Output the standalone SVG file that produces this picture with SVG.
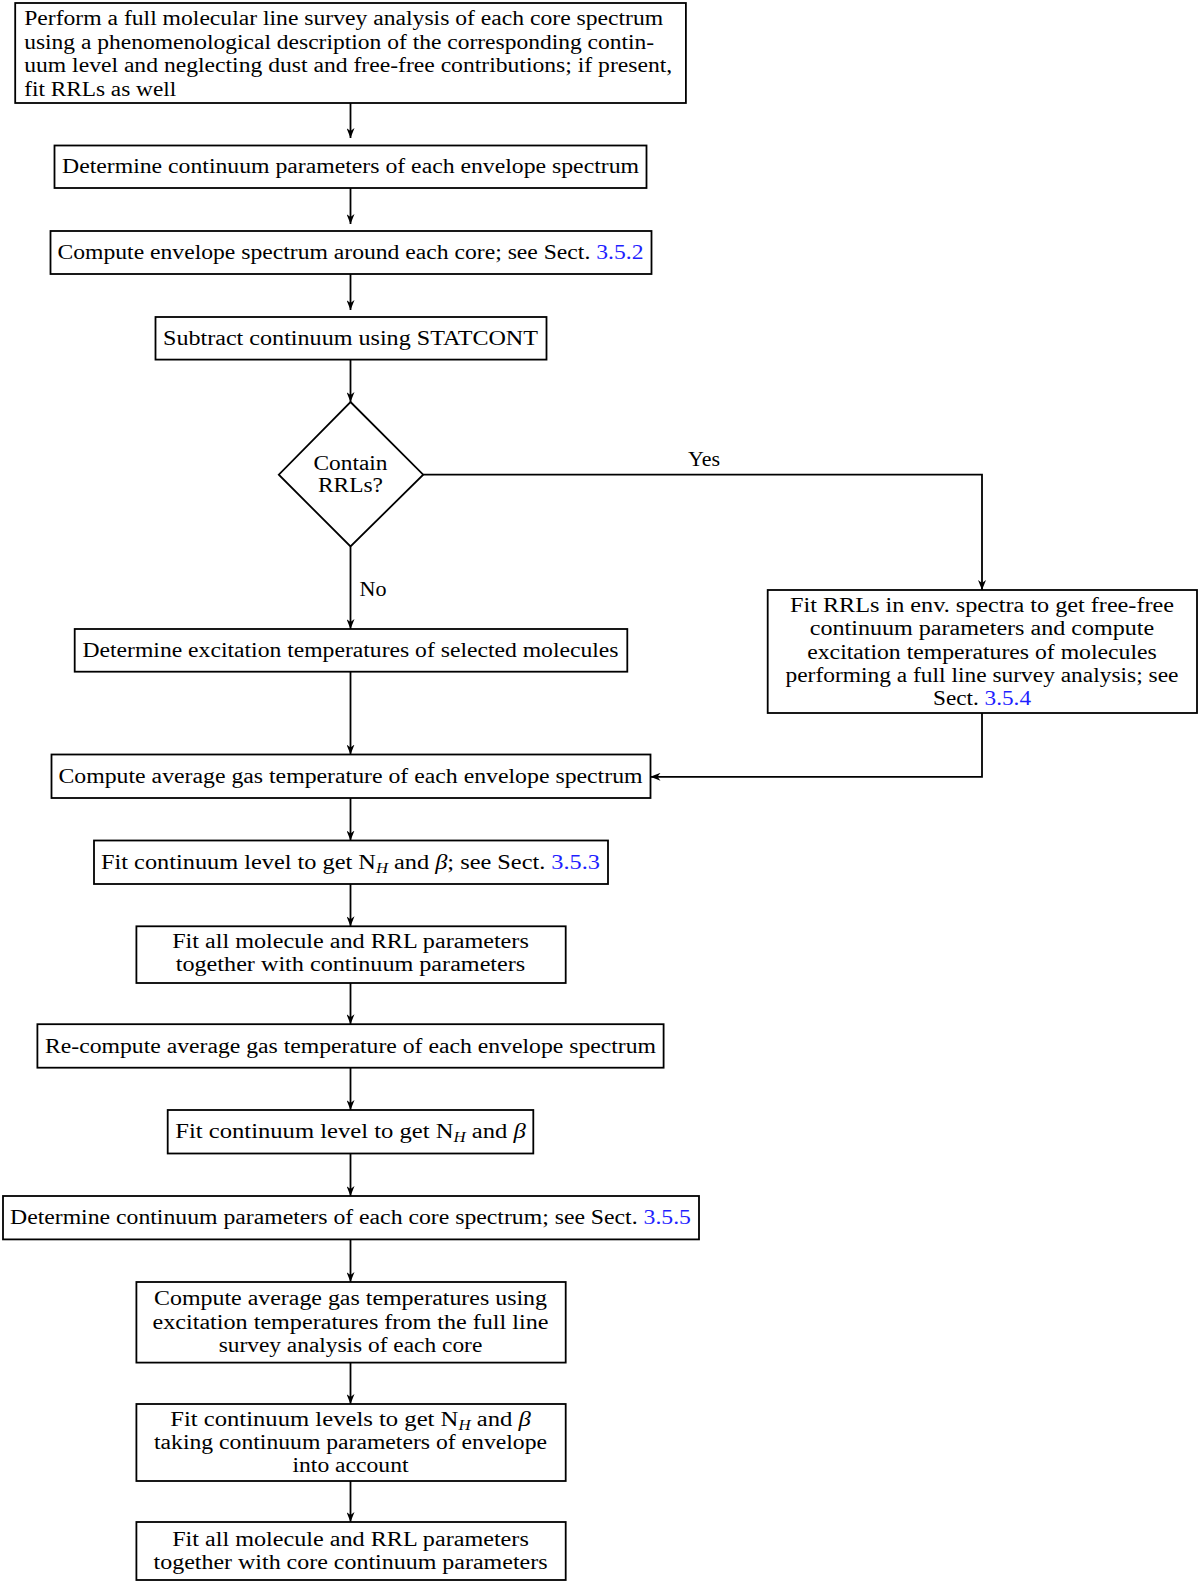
<svg xmlns="http://www.w3.org/2000/svg" width="1200" height="1584" viewBox="0 0 1200 1584">
<style>
.box{fill:#fff;stroke:#000;stroke-width:1.8}
.t{font-family:"Liberation Serif","DejaVu Serif",serif;font-size:20.5px;fill:#000}
.c{text-anchor:middle}
.ln{stroke:#000;stroke-width:1.8;fill:none}
.ref{fill:#1f1fff}
.sub{font-style:italic;font-size:14px}
.it{font-style:italic}
</style>
<defs>
<marker id="arr" viewBox="0 0 10 8" refX="10" refY="4" markerWidth="10" markerHeight="8" markerUnits="userSpaceOnUse" orient="auto">
<path d="M0,0 L10,4 L0,8 L3,4 Z" fill="#000"/>
</marker>
</defs>
<rect width="1200" height="1584" fill="#fff"/>
<g id="connectors">
<path class="ln" d="M350.5,103 V138" marker-end="url(#arr)"/>
<path class="ln" d="M350.5,188 V224" marker-end="url(#arr)"/>
<path class="ln" d="M350.5,274 V310" marker-end="url(#arr)"/>
<path class="ln" d="M350.5,360 V402" marker-end="url(#arr)"/>
<path class="ln" d="M423.2,474.7 H982 V590" marker-end="url(#arr)"/>
<text class="t c" x="704" y="466" textLength="32" lengthAdjust="spacingAndGlyphs">Yes</text>
<path class="ln" d="M350.5,546.5 V629" marker-end="url(#arr)"/>
<text class="t" x="359.6" y="595.5" textLength="27" lengthAdjust="spacingAndGlyphs">No</text>
<path class="ln" d="M350.5,671.7 V754.5" marker-end="url(#arr)"/>
<path class="ln" d="M982,713 V776.8 H650.5" marker-end="url(#arr)"/>
<path class="ln" d="M350.5,798 V840.5" marker-end="url(#arr)"/>
<path class="ln" d="M350.5,884 V926.3" marker-end="url(#arr)"/>
<path class="ln" d="M350.5,983 V1024.2" marker-end="url(#arr)"/>
<path class="ln" d="M350.5,1067.7 V1110" marker-end="url(#arr)"/>
<path class="ln" d="M350.5,1153.5 V1196" marker-end="url(#arr)"/>
<path class="ln" d="M350.5,1239.4 V1282" marker-end="url(#arr)"/>
<path class="ln" d="M350.5,1362.6 V1404" marker-end="url(#arr)"/>
<path class="ln" d="M350.5,1481 V1522" marker-end="url(#arr)"/>
</g>
<g id="n1">
<rect class="box" x="15.2" y="3" width="670.7" height="100"/>
<text class="t" x="24.2" y="25" textLength="639" lengthAdjust="spacingAndGlyphs">Perform a full molecular line survey analysis of each core spectrum</text>
<text class="t" x="24.2" y="48.5" textLength="630" lengthAdjust="spacingAndGlyphs">using a phenomenological description of the corresponding contin-</text>
<text class="t" x="24.2" y="72" textLength="648" lengthAdjust="spacingAndGlyphs">uum level and neglecting dust and free-free contributions; if present,</text>
<text class="t" x="24.2" y="95.5" textLength="152" lengthAdjust="spacingAndGlyphs">fit RRLs as well</text>
</g>
<g id="n2">
<rect class="box" x="54.5" y="145.5" width="592" height="42.5"/>
<text class="t c" x="350.5" y="173" textLength="577" lengthAdjust="spacingAndGlyphs">Determine continuum parameters of each envelope spectrum</text>
</g>
<g id="n3">
<rect class="box" x="50.5" y="231" width="601" height="43"/>
<text class="t c" x="350.5" y="259" textLength="586" lengthAdjust="spacingAndGlyphs">Compute envelope spectrum around each core; see Sect. <tspan class="ref">3.5.2</tspan></text>
</g>
<g id="n4">
<rect class="box" x="155.5" y="317" width="391" height="42.6"/>
<text class="t c" x="350.5" y="345" textLength="375" lengthAdjust="spacingAndGlyphs">Subtract continuum using STATCONT</text>
</g>
<g id="n5">
<polygon class="box" points="350.5,402 423.2,474.7 350.5,546.5 278.8,474.7"/>
<text class="t c" x="350.5" y="470" textLength="74" lengthAdjust="spacingAndGlyphs">Contain</text>
<text class="t c" x="350.5" y="492.4" textLength="65" lengthAdjust="spacingAndGlyphs">RRLs?</text>
</g>
<g id="n6">
<rect class="box" x="74.7" y="629" width="552.6" height="42.7"/>
<text class="t c" x="350.5" y="657" textLength="536" lengthAdjust="spacingAndGlyphs">Determine excitation temperatures of selected molecules</text>
</g>
<g id="n7">
<rect class="box" x="767.7" y="590" width="429.3" height="123"/>
<text class="t c" x="982" y="611.8" textLength="384" lengthAdjust="spacingAndGlyphs">Fit RRLs in env. spectra to get free-free</text>
<text class="t c" x="982" y="635.2" textLength="344.5" lengthAdjust="spacingAndGlyphs">continuum parameters and compute</text>
<text class="t c" x="982" y="658.6" textLength="349.5" lengthAdjust="spacingAndGlyphs">excitation temperatures of molecules</text>
<text class="t c" x="982" y="682" textLength="393" lengthAdjust="spacingAndGlyphs">performing a full line survey analysis; see</text>
<text class="t c" x="982" y="705.4" textLength="98" lengthAdjust="spacingAndGlyphs">Sect. <tspan class="ref">3.5.4</tspan></text>
</g>
<g id="n8">
<rect class="box" x="51.5" y="754.5" width="599" height="43.5"/>
<text class="t c" x="350.5" y="782.7" textLength="584" lengthAdjust="spacingAndGlyphs">Compute average gas temperature of each envelope spectrum</text>
</g>
<g id="n9">
<rect class="box" x="94" y="840.5" width="514" height="43.5"/>
<text class="t c" x="350.5" y="868.7" textLength="499" lengthAdjust="spacingAndGlyphs">Fit continuum level to get N<tspan class="sub" dy="4">H</tspan><tspan dy="-4"> and </tspan><tspan class="it">β</tspan>; see Sect. <tspan class="ref">3.5.3</tspan></text>
</g>
<g id="n10">
<rect class="box" x="136.4" y="926.3" width="429.3" height="56.7"/>
<text class="t c" x="350.5" y="948" textLength="356.6" lengthAdjust="spacingAndGlyphs">Fit all molecule and RRL parameters</text>
<text class="t c" x="350.5" y="971.2" textLength="349.5" lengthAdjust="spacingAndGlyphs">together with continuum parameters</text>
</g>
<g id="n11">
<rect class="box" x="37.4" y="1024.2" width="626.2" height="43.5"/>
<text class="t c" x="350.5" y="1052.5" textLength="611" lengthAdjust="spacingAndGlyphs">Re-compute average gas temperature of each envelope spectrum</text>
</g>
<g id="n12">
<rect class="box" x="167.7" y="1110" width="365.6" height="43.5"/>
<text class="t c" x="350.5" y="1138.2" textLength="350.5" lengthAdjust="spacingAndGlyphs">Fit continuum level to get N<tspan class="sub" dy="4">H</tspan><tspan dy="-4"> and </tspan><tspan class="it">β</tspan></text>
</g>
<g id="n13">
<rect class="box" x="3" y="1196" width="696" height="43.4"/>
<text class="t c" x="350.5" y="1224.2" textLength="681" lengthAdjust="spacingAndGlyphs">Determine continuum parameters of each core spectrum; see Sect. <tspan class="ref">3.5.5</tspan></text>
</g>
<g id="n14">
<rect class="box" x="136.4" y="1282" width="429.3" height="80.6"/>
<text class="t c" x="350.5" y="1305.4" textLength="393" lengthAdjust="spacingAndGlyphs">Compute average gas temperatures using</text>
<text class="t c" x="350.5" y="1328.8" textLength="396" lengthAdjust="spacingAndGlyphs">excitation temperatures from the full line</text>
<text class="t c" x="350.5" y="1352.2" textLength="263.6" lengthAdjust="spacingAndGlyphs">survey analysis of each core</text>
</g>
<g id="n15">
<rect class="box" x="136.4" y="1404" width="429.3" height="77"/>
<text class="t c" x="350.5" y="1425.6" textLength="360.6" lengthAdjust="spacingAndGlyphs">Fit continuum levels to get N<tspan class="sub" dy="4">H</tspan><tspan dy="-4"> and </tspan><tspan class="it">β</tspan></text>
<text class="t c" x="350.5" y="1449" textLength="393" lengthAdjust="spacingAndGlyphs">taking continuum parameters of envelope</text>
<text class="t c" x="350.5" y="1472.4" textLength="116" lengthAdjust="spacingAndGlyphs">into account</text>
</g>
<g id="n16">
<rect class="box" x="136.4" y="1522" width="429.3" height="58"/>
<text class="t c" x="350.5" y="1545.8" textLength="356.6" lengthAdjust="spacingAndGlyphs">Fit all molecule and RRL parameters</text>
<text class="t c" x="350.5" y="1569.2" textLength="394" lengthAdjust="spacingAndGlyphs">together with core continuum parameters</text>
</g>
</svg>
